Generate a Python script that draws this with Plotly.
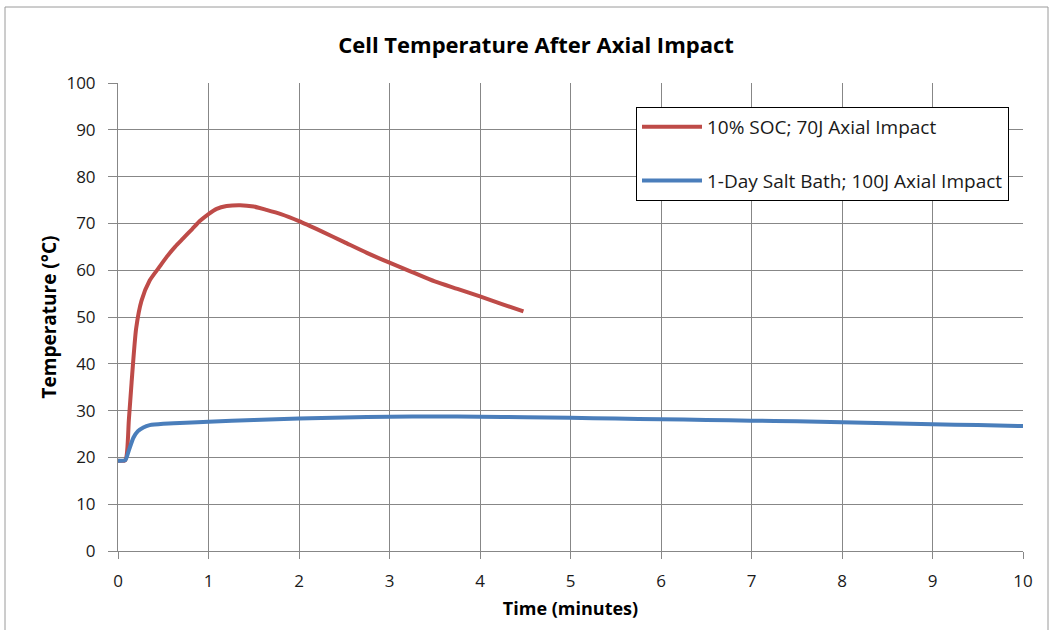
import plotly.graph_objects as go

# Temperature traces (time in minutes, temperature in °C)
soc_time = [0.0, 0.08, 0.12, 0.15, 0.2, 0.26, 0.35, 0.45, 0.54, 0.63, 0.72, 0.82, 0.91,
            1.0, 1.09, 1.2, 1.35, 1.5, 1.64, 1.8, 2.0, 2.25, 2.5, 2.75, 3.0, 3.25,
            3.5, 3.75, 4.0, 4.25, 4.48]
soc_temp = [19.3, 19.4, 28.0, 36.0, 47.5, 53.5, 57.8, 60.5, 62.9, 65.0, 66.8, 68.8, 70.6,
            72.0, 73.1, 73.7, 73.9, 73.6, 72.9, 72.0, 70.5, 68.3, 66.0, 63.7, 61.6, 59.6,
            57.6, 56.0, 54.4, 52.7, 51.2]

salt_time = [0.0, 0.08, 0.12, 0.17, 0.22, 0.28, 0.35, 0.5, 0.75, 1.0, 1.5, 2.0, 2.5,
             3.0, 3.5, 4.0, 4.5, 5.0, 5.5, 6.0, 6.5, 7.0, 7.5, 8.0, 8.5, 9.0, 9.5, 10.0]
salt_temp = [19.3, 19.4, 21.5, 24.2, 25.6, 26.4, 26.9, 27.2, 27.4, 27.6, 28.0, 28.3, 28.5,
             28.7, 28.75, 28.7, 28.6, 28.45, 28.3, 28.15, 28.0, 27.85, 27.7, 27.5, 27.3, 27.1,
             26.9, 26.7]

x_ticks = list(range(0, 11))
y_ticks = list(range(0, 101, 10))

FONT = "Open Sans, Arial, sans-serif"
GRID = "#878787"
TEXT = "#1a1a1a"

fig = go.Figure()
fig.add_trace(go.Scatter(
    x=soc_time, y=soc_temp, mode="lines", name="10% SOC; 70J Axial Impact",
    line=dict(color="#BE4B48", width=4, shape="spline", smoothing=0.6),
    legendgroup="a"))
fig.add_trace(go.Scatter(
    x=salt_time, y=salt_temp, mode="lines", name="1-Day Salt Bath; 100J Axial Impact",
    line=dict(color="#4A7EBB", width=4, shape="spline", smoothing=0.6),
    legendgroup="b"))

L, R, T, B = 118, 1023, 83, 551
W, H = 1052, 630


def px_to_paper(px, py):
    return (px - L) / (R - L), (B - py) / (B - T)


x0, y0 = px_to_paper(5, 7)
x1, y1 = px_to_paper(1048, 660)

fig.update_layout(
    width=W, height=H,
    margin=dict(l=L, r=W - R, t=T, b=H - B, pad=0),
    paper_bgcolor="white", plot_bgcolor="white",
    font=dict(family=FONT, size=17, color=TEXT),
    title=dict(text="<b>Cell Temperature After Axial Impact</b>",
               x=536 / W, xanchor="center", y=1 - 45 / H, yanchor="middle",
               font=dict(family=FONT, size=22, color="#000000")),
    xaxis=dict(range=[0, 10], tickvals=x_ticks, showgrid=True, gridcolor=GRID, gridwidth=1,
               showline=True, linecolor=GRID, linewidth=1, ticks="outside", ticklen=7,
               tickcolor=GRID, zeroline=False, ticklabelstandoff=8,
               tickfont=dict(size=17, color=TEXT),
               title=dict(text="<b>Time (minutes)</b>", font=dict(size=18, color="#000000"),
                          standoff=10)),
    yaxis=dict(range=[0, 100], tickvals=y_ticks, showgrid=True, gridcolor=GRID, gridwidth=1,
               showline=True, linecolor=GRID, linewidth=1, ticks="outside", ticklen=9,
               tickcolor=GRID, zeroline=False, ticklabelstandoff=9,
               tickfont=dict(size=17, color=TEXT),
               title=dict(text="<b>Temperature (°C)</b>", font=dict(size=19, color="#000000"),
                          standoff=4)),
    showlegend=True,
    legend=dict(x=px_to_paper(636, 0)[0], y=px_to_paper(0, 107)[1], xanchor="left",
                yanchor="top", bgcolor="white", bordercolor="#000000", borderwidth=1,
                font=dict(size=19, family=FONT, color=TEXT), traceorder="grouped",
                tracegroupgap=26, itemwidth=60),
    shapes=[dict(type="rect", xref="paper", yref="paper", x0=x0, y0=y0, x1=x1, y1=y1,
                 line=dict(color="#9a9a9a", width=1), layer="below")],
)

fig.write_html("out.html")
